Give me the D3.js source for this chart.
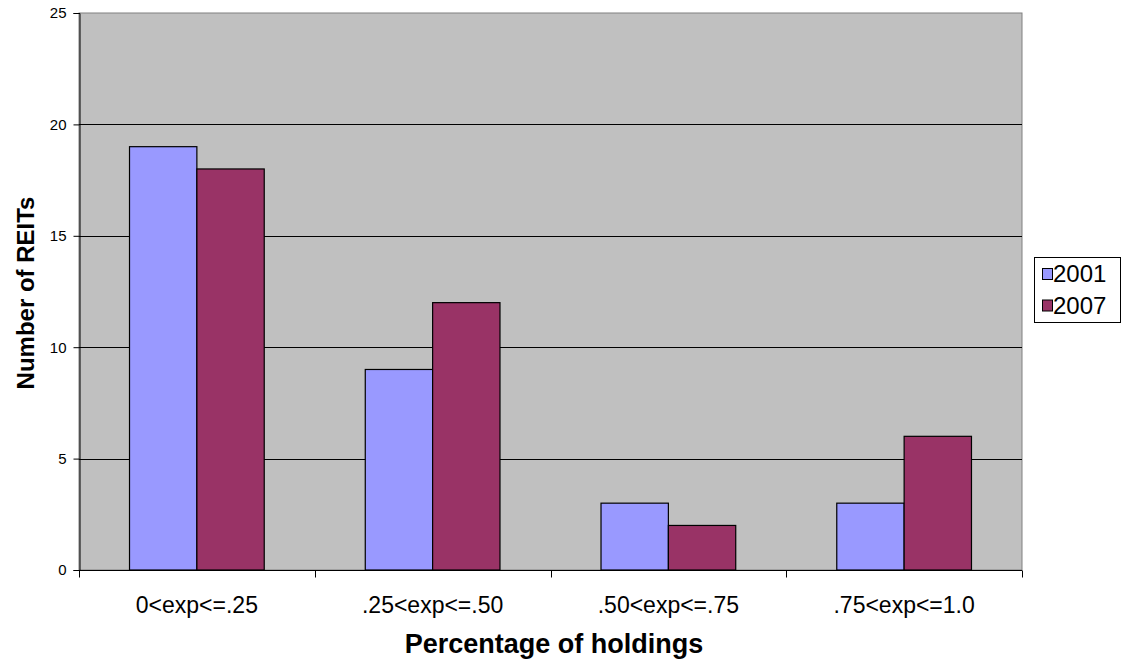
<!DOCTYPE html>
<html><head><meta charset="utf-8">
<script src="https://cdn.jsdelivr.net/npm/d3@7"></script>
<style>body{margin:0;background:#fff;}svg{display:block;font-family:Arial,"Liberation Sans",sans-serif;}</style>
</head><body>
<script>
const categories = ["0<exp<=.25", ".25<exp<=.50", ".50<exp<=.75", ".75<exp<=1.0"];
const seriesNames = ["2001", "2007"];
const values2001 = [19, 9, 3, 3];
const values2007 = [18, 12, 2, 6];
const yTicks = [0, 5, 10, 15, 20, 25];
const colors = ["#9999FF", "#993366"];

const W = 1122, H = 664;
const m = {l: 79, r: 1022, t: 13, b: 570};
const svg = d3.select("body").append("svg").attr("width", W).attr("height", H);

const x = d3.scaleBand().domain(categories).range([m.l, m.r]).paddingInner(0).paddingOuter(0);
const y = d3.scaleLinear().domain([0, 25]).range([m.b, m.t]);

svg.append("rect").attr("x", m.l).attr("y", m.t).attr("width", m.r - m.l).attr("height", m.b - m.t)
  .attr("fill", "#C0C0C0").attr("stroke", "#808080").attr("stroke-width", 1);

// gridlines
svg.append("g").selectAll("line").data(yTicks.filter(d => d > 0 && d < 25)).join("line")
  .attr("x1", m.l).attr("x2", m.r).attr("y1", d => Math.round(y(d)) + 0.5).attr("y2", d => Math.round(y(d)) + 0.5)
  .attr("stroke", "#000").attr("stroke-width", 1);

const data = [values2001, values2007];
const bw = x.bandwidth() * 2 / 7;
const off = x.bandwidth() * 1.5 / 7;
data.forEach((vals, si) => {
  svg.append("g").selectAll("rect").data(vals).join("rect")
    .attr("x", (d, i) => x(categories[i]) + off + si * bw)
    .attr("y", d => y(d))
    .attr("width", bw)
    .attr("height", d => y(0) - y(d))
    .attr("fill", colors[si]).attr("stroke", "#000").attr("stroke-width", 1.2);
});

// y axis
const ya = svg.append("g").attr("transform", `translate(${m.l + 0.5},0)`)
  .call(d3.axisLeft(y).tickValues(yTicks).tickSize(6).tickPadding(7));
ya.select(".domain").attr("stroke", "#000");
ya.selectAll("text").attr("font-size", 15).attr("font-family", "Arial, 'Liberation Sans', sans-serif").attr("fill", "#000");

// x axis
const xa = svg.append("g").attr("transform", `translate(0,${m.b + 0.5})`);
xa.append("line").attr("x1", m.l).attr("x2", m.r).attr("stroke", "#000");
const tickPos = categories.map(c => x(c)).concat([m.r]);
xa.selectAll("line.t").data(tickPos).join("line").attr("class", "t")
  .attr("x1", d => Math.round(d) + 0.5).attr("x2", d => Math.round(d) + 0.5).attr("y1", 0).attr("y2", 7).attr("stroke", "#000");
xa.selectAll("text").data(categories).join("text")
  .attr("x", d => x(d) + x.bandwidth() / 2).attr("y", 42)
  .attr("text-anchor", "middle").attr("font-size", 23).text(d => d);

// axis titles
svg.append("text").attr("x", 554).attr("y", 653).attr("text-anchor", "middle")
  .attr("font-size", 27).attr("font-weight", "bold").text("Percentage of holdings");
svg.append("text").attr("transform", `translate(34,293) rotate(-90)`).attr("text-anchor", "middle")
  .attr("font-size", 24).attr("font-weight", "bold").text("Number of REITs");

// legend
const lg = svg.append("g");
lg.append("rect").attr("x", 1034.5).attr("y", 257.5).attr("width", 86).attr("height", 65)
  .attr("fill", "#fff").attr("stroke", "#000");
seriesNames.forEach((s, i) => {
  lg.append("rect").attr("x", 1042.5).attr("y", 268.5 + i * 31.5).attr("width", 10).attr("height", 11)
    .attr("fill", colors[i]).attr("stroke", "#000");
  lg.append("text").attr("x", 1053).attr("y", 282 + i * 31.5).attr("font-size", 24).text(s);
});
</script>
</body></html>
